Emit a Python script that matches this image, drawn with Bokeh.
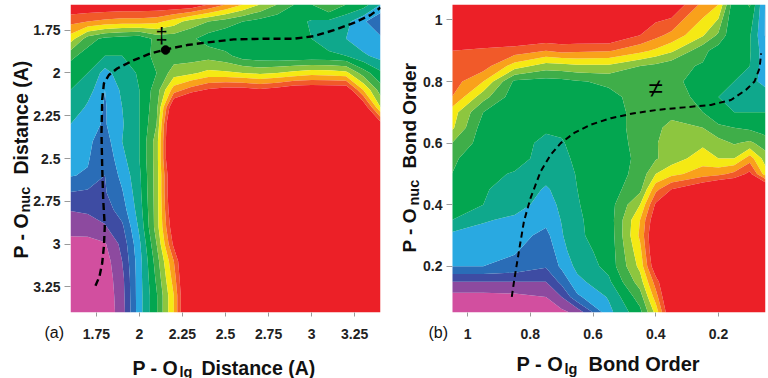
import numpy as np
from bokeh.core.properties import value
from bokeh.embed import file_html
from bokeh.layouts import column, row
from bokeh.models import FixedTicker, Range1d
from bokeh.plotting import figure
from bokeh.resources import INLINE

# Energy bands from the lowest (magenta) to the highest (red)
band_colors = ["#d24f9f", "#8d4a9f", "#3e4ca3", "#2a6db7", "#29a9e1", "#0fa88c", "#03a650",
               "#3fae49", "#8dc63f", "#f5e914", "#f9a11b", "#f15a29", "#ec2027"]
band_levels = [-1, 1, 2, 3, 4, 5, 6, 7, 8, 9, 10, 11, 12, 30]

# Panel (a): P-Olg distance (columns), P-Onuc distance (rows)
a_x = [1.6, 1.7, 1.8, 1.9, 2.0, 2.1, 2.2, 2.3, 2.4, 2.5, 2.6, 2.7, 2.8, 2.9, 3.0, 3.1, 3.2, 3.3, 3.4]
a_y = [1.6, 1.7, 1.8, 1.9, 2.0, 2.1, 2.2, 2.3, 2.4, 2.5, 2.6, 2.7, 2.8, 2.9, 3.0, 3.1, 3.2, 3.3, 3.4]
a_z = [
    [13, 13, 13, 13, 13, 13, 13, 13, 12, 11, 10, 9, 8, 7, 7, 8, 7, 6.5, 5],
    [11.3, 11, 10.7, 10.5, 10.5, 10.3, 9.5, 8.5, 8, 7.5, 7, 6.6, 6.3, 6.3, 5.9, 5.8, 5.3, 4.2, 3],
    [9.5, 7.5, 6.7, 6.5, 6.3, 7.3, 7.4, 7.2, 6.5, 6.2, 6.2, 6.2, 6.2, 6.2, 6, 5.5, 5, 4.3, 4.2],
    [7.3, 6.5, 6, 6, 6.3, 7.4, 7.5, 7.5, 7.6, 7.3, 6.5, 6.3, 6.2, 6.2, 6.2, 6.2, 6, 5.2, 4.6],
    [6.3, 6, 4.6, 5.6, 6.1, 7, 8.5, 8.8, 9.3, 9.2, 9, 8.8, 9, 9.3, 9.6, 9.5, 9.3, 7.5, 6.2],
    [6, 5.5, 4, 5.2, 6, 7.5, 10.5, 11.5, 12.2, 12.5, 12.5, 12.2, 12.5, 13, 13, 13, 13, 10, 7.5],
    [5.9, 4.8, 3.9, 5, 6, 7.7, 13.5, 15, 15, 15, 15, 15, 15, 15, 15, 15, 15, 13, 9],
    [5, 4.3, 3.9, 4.9, 6, 8, 15, 15, 15, 15, 15, 15, 15, 15, 15, 15, 15, 15, 12.5],
    [4.4, 4.2, 3.5, 5, 6, 8.5, 15, 15, 15, 15, 15, 15, 15, 15, 15, 15, 15, 15, 15],
    [4.2, 4.1, 3.2, 4.7, 6, 8.5, 15, 15, 15, 15, 15, 15, 15, 15, 15, 15, 15, 15, 15],
    [4.05, 3.9, 3, 4.3, 5.8, 8.5, 14, 15, 15, 15, 15, 15, 15, 15, 15, 15, 15, 15, 15],
    [2.95, 2.8, 2.9, 3.9, 5.7, 8.5, 14, 15, 15, 15, 15, 15, 15, 15, 15, 15, 15, 15, 15],
    [2.05, 2.2, 2.5, 3.5, 5.5, 8.5, 13.6, 15, 15, 15, 15, 15, 15, 15, 15, 15, 15, 15, 15],
    [1.35, 1.4, 1.9, 2.8, 5.2, 8.5, 13, 15, 15, 15, 15, 15, 15, 15, 15, 15, 15, 15, 15],
    [0.7, 0.7, 0.9, 2.3, 4.8, 8, 12.3, 15, 15, 15, 15, 15, 15, 15, 15, 15, 15, 15, 15],
    [0.4, 0.4, 0.5, 2, 4.6, 7.5, 11, 15, 15, 15, 15, 15, 15, 15, 15, 15, 15, 15, 15],
    [0.3, 0.3, 0.4, 1.7, 4.6, 7.2, 10.5, 15, 15, 15, 15, 15, 15, 15, 15, 15, 15, 15, 15],
    [0.2, 0.2, 0.3, 1.6, 4.6, 6.9, 10, 15, 15, 15, 15, 15, 15, 15, 15, 15, 15, 15, 15],
    [0.2, 0.2, 0.3, 1.5, 4.6, 6.9, 10, 15, 15, 15, 15, 15, 15, 15, 15, 15, 15, 15, 15],
]
a_path_x = [1.745, 1.768, 1.784, 1.794, 1.799, 1.79, 1.784, 1.78, 1.784, 1.794, 1.823, 1.871, 1.968, 2.064,
            2.152, 2.277, 2.393, 2.548, 2.742, 2.897, 3.013, 3.129, 3.245, 3.342, 3.4]
a_path_y = [3.244, 3.19, 3.112, 3.014, 2.898, 2.742, 2.547, 2.353, 2.158, 2.061, 2.012, 1.974, 1.925, 1.886,
            1.863, 1.837, 1.822, 1.804, 1.8, 1.8, 1.785, 1.75, 1.707, 1.662, 1.618]
a_ts_x = [2.152]
a_ts_y = [1.866]
a_ticks = [1.75, 2, 2.25, 2.5, 2.75, 3, 3.25]
a_tick_labels = ["1.75", "2", "2.25", "2.5", "2.75", "3", "3.25"]

# Panel (b): P-Olg bond order (columns), P-Onuc bond order (rows)
b_x = [1.05, 0.95, 0.85, 0.75, 0.7, 0.65, 0.55, 0.45, 0.4, 0.35, 0.25, 0.2, 0.15, 0.1, 0.05]
b_y = [1.05, 0.95, 0.9, 0.85, 0.8, 0.75, 0.7, 0.65, 0.6, 0.55, 0.5, 0.45, 0.4, 0.35, 0.3, 0.25, 0.2, 0.15, 0.1, 0.05]
b_z = [
    [13, 13, 13, 13, 13, 13, 13, 13, 13, 13, 10.7, 10, 6.2, 7.1, 3.9],
    [13, 13, 13, 13, 13, 13, 13, 12, 11.3, 10.7, 9.1, 7.8, 6.1, 6.1, 3.9],
    [12, 11.8, 11.6, 11, 11.3, 11.2, 11.1, 10.3, 9.8, 9.2, 7.3, 6.5, 6.1, 6.1, 4.3],
    [11.7, 11.5, 9.5, 8.5, 8.6, 8.8, 8.8, 8, 7.7, 7.3, 6.9, 6.4, 6.1, 6, 4.3],
    [11.5, 10, 6.8, 6.6, 6.7, 6.9, 7.2, 7.3, 7.4, 7.3, 6.5, 6.1, 6, 5.5, 4.5],
    [11, 8.4, 6.4, 6.1, 6.2, 6.2, 6.7, 7.4, 7.4, 7.3, 6.8, 6, 6, 6, 5.8],
    [9.5, 7, 6.5, 6.5, 6.5, 6.5, 6.5, 7.4, 7.5, 7.6, 7, 6.3, 6, 6, 6],
    [9.2, 6.5, 6.5, 6.2, 6.2, 6.5, 6.5, 7.4, 7.7, 8.4, 8, 7.2, 7, 6.8, 6.5],
    [8, 6.5, 6.5, 5.7, 5.9, 6.4, 6.5, 7.3, 7.9, 8.6, 8.8, 8.4, 7.9, 8.2, 7.5],
    [7.2, 6.3, 6.5, 5.5, 5.5, 6.4, 6.5, 7.2, 7.9, 8.5, 9.5, 9, 9, 10.5, 8.5],
    [7, 6.3, 5.9, 5.3, 5.4, 6.1, 6.5, 7.3, 9, 9.7, 10.5, 10.7, 11.3, 12.3, 9.5],
    [6.5, 6.1, 5.6, 4.9, 5.3, 6, 6.5, 7.7, 10.7, 12, 13.2, 14, 14, 14, 14],
    [6.4, 6, 5.4, 4.6, 5.2, 5.95, 6.5, 9, 12.2, 14, 14, 14, 14, 14, 14],
    [6, 5.1, 4.8, 4.3, 5.05, 5.9, 6.4, 10, 13, 14, 14, 14, 14, 14, 14],
    [4.7, 4.6, 4.4, 3.7, 4.9, 5.9, 6.3, 10.2, 13.5, 14, 14, 14, 14, 14, 14],
    [4.3, 4.3, 4.1, 3.3, 4.6, 5.7, 6.3, 9.7, 13.5, 14, 14, 14, 14, 14, 14],
    [4, 4, 3.7, 3.1, 4.2, 5.3, 6.3, 9.3, 13, 14, 14, 14, 14, 14, 14],
    [2, 2, 2, 2, 3.3, 4.7, 5.8, 8.5, 11.5, 14, 14, 14, 14, 14, 14],
    [0.6, 0.6, 0.7, 1, 2, 3.8, 5.1, 7.5, 10.5, 14, 14, 14, 14, 14, 14],
    [0.3, 0.3, 0.3, 0.4, 0.7, 1.3, 4.7, 6.7, 9.3, 13.5, 14, 14, 14, 14, 14],
]
b_path_x = [0.859, 0.85, 0.836, 0.82, 0.799, 0.767, 0.735, 0.703, 0.66, 0.607, 0.543, 0.469, 0.394, 0.309,
            0.224, 0.16, 0.112, 0.085, 0.069, 0.064]
b_path_y = [0.101, 0.163, 0.25, 0.347, 0.422, 0.508, 0.562, 0.6, 0.633, 0.66, 0.681, 0.697, 0.708, 0.716,
            0.724, 0.74, 0.773, 0.8, 0.843, 0.891]
b_ticks = [1, 0.8, 0.6, 0.4, 0.2]
b_tick_labels = ["1", "0.8", "0.6", "0.4", "0.2"]

FONT = "Liberation Sans"
W, H = 768, 378


def ascending(x, y, z):
    x, y, z = np.array(x), np.array(y), np.array(z)
    xi, yi = np.argsort(x), np.argsort(y)
    return x[xi], y[yi], z[yi][:, xi]


def panel(x, y, z, x_range, y_range, left, right, top, bottom, ticks, labels):
    p = figure(width=384, height=H, output_backend="svg", toolbar_location=None,
               x_range=x_range, y_range=y_range, min_border_left=left, min_border_right=right,
               min_border_top=top, min_border_bottom=bottom, outline_line_color=None,
               background_fill_color="white")
    p.grid.visible = False
    overrides = dict(zip(ticks, labels))
    for ax in (p.xaxis[0], p.yaxis[0]):
        ax.ticker = FixedTicker(ticks=ticks)
        ax.major_label_overrides = overrides
        ax.axis_line_color = None
        ax.minor_tick_line_color = None
        ax.major_label_text_font = FONT
        ax.major_label_text_font_style = "bold"
        ax.major_label_text_font_size = "14px"
        ax.major_label_text_color = "#222222"
        ax.major_tick_line_color = "#9a9a9a"
        ax.major_tick_in = 0
    p.yaxis[0].major_tick_out = 6
    p.yaxis[0].major_label_standoff = 4
    p.xaxis[0].major_tick_out = 4
    p.xaxis[0].major_label_standoff = 12
    ax_, ay_, az_ = ascending(x, y, z)
    p.contour(ax_, ay_, az_, levels=band_levels, fill_color=band_colors, line_color=None)
    return p


pa = panel(a_x, a_y, a_z, Range1d(1.6, 3.4), Range1d(3.4, 1.6), 70, 4, 4, 65, a_ticks, a_tick_labels)
pa.line(a_path_x, a_path_y, line_color="black", line_width=2.4, line_dash="7 4")
pa.scatter(a_ts_x, a_ts_y, size=8.5, color="black")
pa.text(a_ts_x, a_ts_y, text=["‡"], x_offset=-4, y_offset=-2, text_font=value(FONT), text_font_size="22px",
        text_align="center", text_baseline="bottom", text_color="black")

pb = panel(b_x, b_y, b_z, Range1d(1.048, 0.05), Range1d(0.05, 1.05), 68, 3, 3, 66, b_ticks, b_tick_labels)
pb.line(b_path_x, b_path_y, line_color="black", line_width=2, line_dash="6 4")
pb.text([0.4], [0.78], text=["≠"], text_font=value(FONT), text_font_size="26px", text_align="center",
        text_baseline="middle", text_color="black")

# Transparent sheet over both panels that carries the titles with their subscripts
sheet = figure(width=W, height=H, output_backend="svg", toolbar_location=None, x_range=Range1d(0, W),
               y_range=Range1d(H, 0), min_border=0, outline_line_color=None, x_axis_location=None,
               y_axis_location=None, background_fill_alpha=0, border_fill_alpha=0, margin=(-H, 0, 0, 0))
sheet.grid.visible = False


def label(text, x, y, size, angle=0.0, style="bold"):
    sheet.text([x], [y], text=[text], angle=angle, text_font=value(FONT), text_font_style=style,
               text_font_size=f"{size}px", text_color="#111111", text_baseline="alphabetic", text_align="left")


R = np.pi / 2
label("P - O", 132, 367, 19.5)
label("lg", 179, 371, 14.5)
label("Distance (A)", 201, 367, 19.5)
label("P - O", 20, 258, 19.5, R)
label("nuc", 24, 212, 14.5, R)
label("Distance (A)", 20, 174, 19.5, R)
label("(a)", 44, 332, 16, style="normal")

label("P - O", 516, 363, 20)
label("lg", 564, 368, 14.5)
label("Bond Order", 588, 363, 20)
label("P - O", 409, 252, 19, R)
label("nuc", 413, 205, 14.5, R)
label("Bond Order", 409, 168, 19, R)
label("(b)", 428, 332, 16, style="normal")

layout = column(row(pa, pb, spacing=0), sheet, spacing=0)
open("out.html", "w").write(file_html(layout, INLINE))
